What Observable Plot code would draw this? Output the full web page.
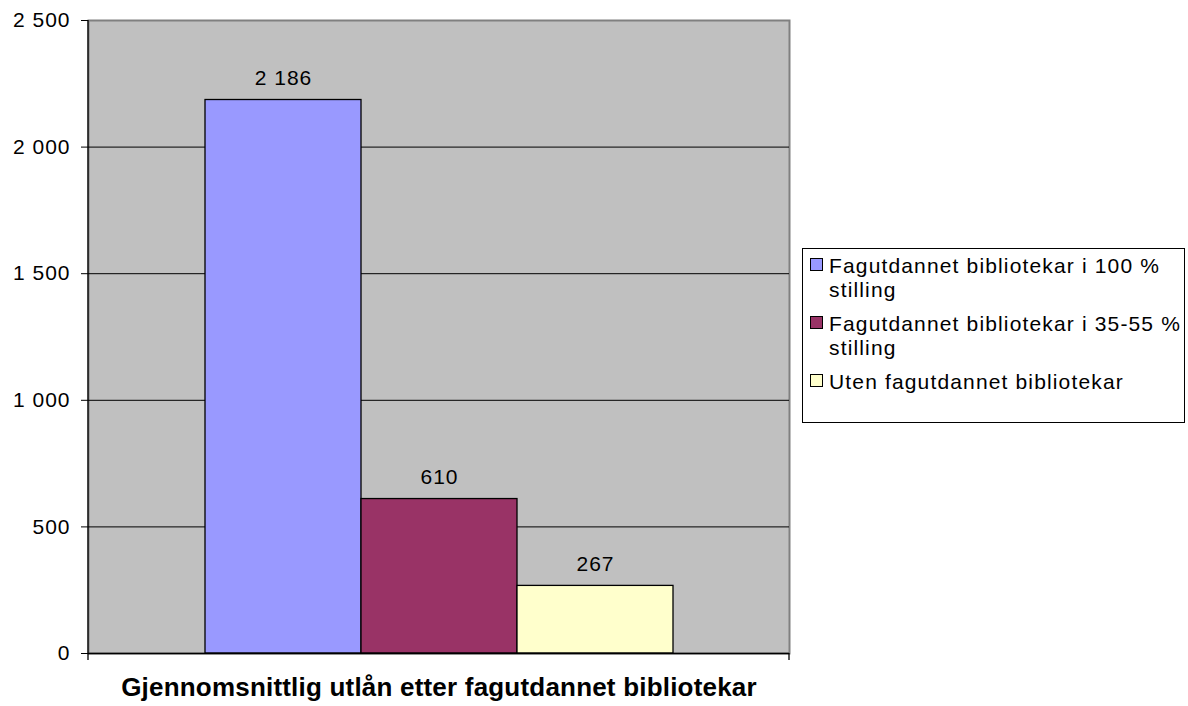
<!DOCTYPE html>
<html>
<head>
<meta charset="utf-8">
<script src="https://cdn.jsdelivr.net/npm/d3@7"></script>
<script src="https://cdn.jsdelivr.net/npm/@observablehq/plot@0.6"></script>
<style>
  html, body { margin: 0; padding: 0; background: #fff; }
  #wrap { position: relative; width: 1188px; height: 706px; overflow: hidden; font-family: "Liberation Sans", Arial, sans-serif; }
  #wrap svg { position: absolute; left: 0; top: 0; }
  #wrap svg text { letter-spacing: 1px; }
  #legend { position: absolute; left: 802px; top: 248px; width: 381px; height: 168px; border: 1px solid #000; background: #fff; box-sizing: content-box; padding-top: 5px; }
  .item { display: flex; align-items: flex-start; margin-bottom: 10px; }
  .sw { width: 11px; height: 11px; border: 1px solid #000; margin: 4px 6px 0 7px; flex: none; }
  .lab { width: 352px; font-size: 21px; line-height: 24px; letter-spacing: 1.15px; color: #000; }
</style>
</head>
<body>
<div id="wrap"><div id="legend"></div></div>
<script>
const series = [
  "Fagutdannet bibliotekar i 100 % stilling",
  "Fagutdannet bibliotekar i 35-55 % stilling",
  "Uten fagutdannet bibliotekar"
];
const values = [2186, 610, 267];
const colors = ["#9999ff", "#993366", "#ffffcc"];
const yTicks = [0, 500, 1000, 1500, 2000, 2500];
const categoryTitle = "Gjennomsnittlig utlån etter fagutdannet bibliotekar";

const data = series.map((s, i) => ({series: s, value: values[i]}));
const fmt = d3.formatLocale({thousands: "\u00a0", grouping: [3], decimal: ","}).format(",");

const W = 1188, H = 706, mL = 88, mR = 399, mT = 20, mB = 53;

const chart = Plot.plot({
  width: W, height: H,
  marginLeft: mL, marginRight: mR, marginTop: mT, marginBottom: mB,
  style: {fontFamily: "'Liberation Sans', Arial, sans-serif", fontSize: "21px", background: "white", color: "black", overflow: "visible"},
  x: {domain: series, padding: 0, insetLeft: 116.5, insetRight: 116.5, axis: null},
  y: {domain: [0, 2500]},
  color: {domain: series, range: colors},
  marks: [
    Plot.frame({fill: "#c0c0c0", stroke: "#808080", strokeWidth: 2}),
    Plot.gridY(yTicks.slice(1, -1), {stroke: "black", strokeOpacity: 1, strokeWidth: 1}),
    Plot.axisY(yTicks, {tickSize: 7, tickPadding: 11, tickFormat: fmt, label: null, fontSize: 21, stroke: "black"}),
    Plot.barY(data, {x: "series", y: "value", fill: "series", stroke: "black", strokeWidth: 1.3}),
    Plot.text(data, {x: "series", y: "value", text: d => fmt(d.value), dy: -22, fontSize: 21, fill: "black"}),
    Plot.ruleY([0], {stroke: "black", strokeWidth: 1.3}),
    Plot.text([categoryTitle], {frameAnchor: "bottom", dy: 42, fontSize: 26, fontWeight: "bold", fill: "black"})
  ]
});

const svg = d3.select(chart);
const y = chart.scale("y");
// left axis line and category boundary ticks
svg.append("line")
  .attr("x1", mL).attr("x2", mL)
  .attr("y1", y.apply(2500)).attr("y2", y.apply(0) + 7)
  .attr("stroke", "black").attr("stroke-width", 1.3);
svg.append("line")
  .attr("x1", W - mR).attr("x2", W - mR)
  .attr("y1", y.apply(0)).attr("y2", y.apply(0) + 7)
  .attr("stroke", "black").attr("stroke-width", 1.3);
svg.selectAll("text").filter(function () { return this.textContent === categoryTitle; })
  .style("letter-spacing", "0.2px");

const wrap = document.getElementById("wrap");
wrap.insertBefore(chart, wrap.firstChild);

const legend = d3.select("#legend");
series.forEach((s, i) => {
  const it = legend.append("div").attr("class", "item");
  it.append("div").attr("class", "sw").style("background", colors[i]);
  it.append("div").attr("class", "lab").text(s);
});
</script>
</body>
</html>
